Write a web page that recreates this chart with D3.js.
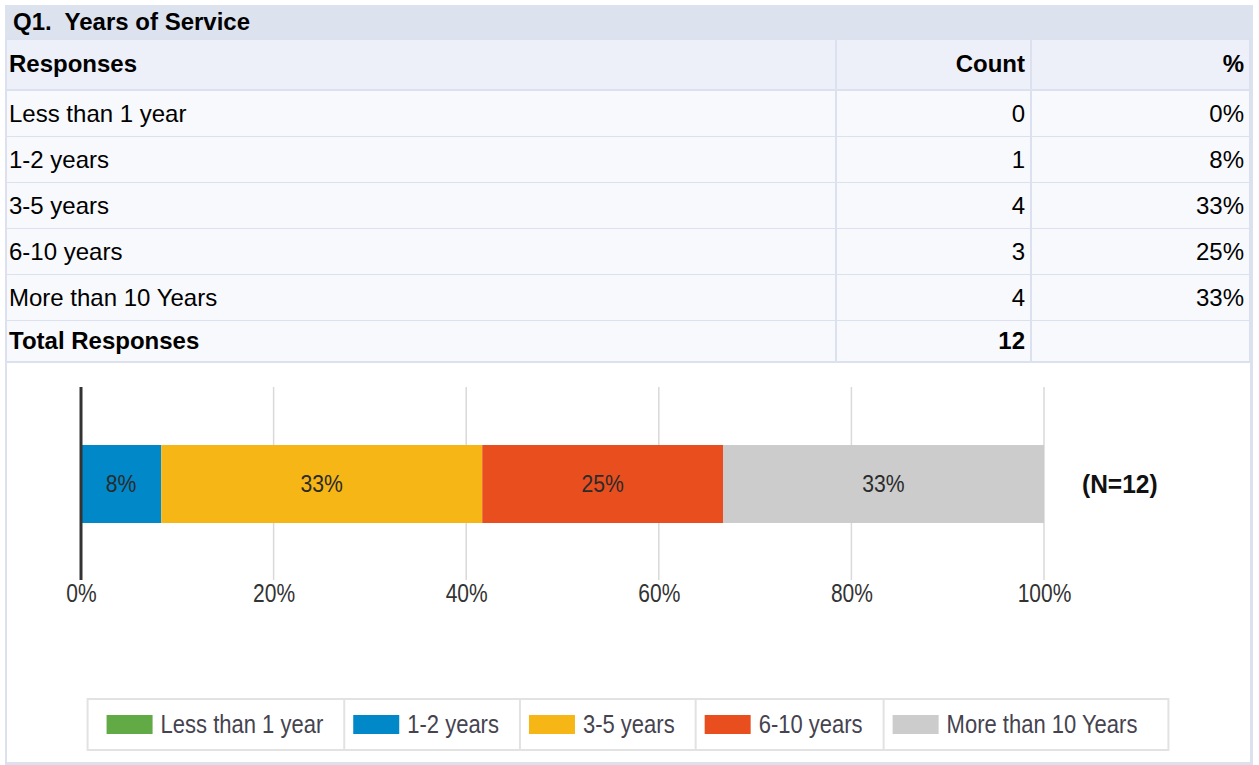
<!DOCTYPE html>
<html>
<head>
<meta charset="utf-8">
<script src="https://cdn.jsdelivr.net/npm/d3@7"></script>
<style>
    body { margin: 0; background: #fff; }
    svg { display: block; }
    .tbl text { font-family: "Liberation Sans", Arial, sans-serif; font-size: 24px; fill: #000; }
    .tbl .bold { font-weight: bold; }
    .chart text { font-family: "Liberation Sans", Arial, sans-serif; }
    .tick-label { font-size: 25px; fill: #333; }
    .bar-label { font-size: 23px; fill: #2b2b2b; }
    .legend-label { font-size: 25px; fill: #45434f; }
    .n-label { font-size: 25px; font-weight: bold; fill: #111; }
</style>
</head>
<body>
<script>

const title = "Q1.  Years of Service";
const categories = ["Less than 1 year", "1-2 years", "3-5 years", "6-10 years", "More than 10 Years"];
const counts = [0, 1, 4, 3, 4];
const percents = ["0%", "8%", "33%", "25%", "33%"];
const colors = ["#62aa46", "#0088c9", "#f5b616", "#e94e1f", "#cccccc"];
const tickValues = [0, 0.2, 0.4, 0.6, 0.8, 1];
const total = d3.sum(counts);

const dim = { width: 1259, height: 765 };
const border = "#dbe1ef";

// the chart text in the original is a narrow face; squeeze Liberation Sans to match
function squeeze(sel, k) {
    sel.each(function () {
        const w = this.getComputedTextLength();
        d3.select(this)
            .attr("textLength", w * k)
            .attr("lengthAdjust", "spacingAndGlyphs");
    });
}

const svg = d3.select("body").append("svg")
    .attr("width", dim.width)
    .attr("height", dim.height);

// Table ////////////////////////////////////

const cols = [7, 836, 1031, 1250];
const rowY = d3.scaleBand()
    .domain(d3.range(categories.length))
    .range([91, 321]);

const tbl = svg.append("g").attr("class", "tbl");

// frame
tbl.append("rect")
    .attr("x", 5).attr("y", 5)
    .attr("width", 1248).attr("height", 760)
    .style("fill", border);

tbl.append("rect")
    .attr("x", 5).attr("y", 5)
    .attr("width", 1248).attr("height", 33)
    .style("fill", "#dce3ef");

tbl.append("text")
    .attr("class", "bold")
    .attr("x", 13).attr("y", 30)
    .style("white-space", "pre")
    .text(title);

// header row
const headerY = 40, headerH = 49;
[["Responses", "start"], ["Count", "end"], ["%", "end"]].forEach(([t, anchor], i) => {
    tbl.append("rect")
        .attr("x", cols[i] + (i ? 1 : 0)).attr("y", headerY)
        .attr("width", cols[i + 1] - cols[i] - (i ? 1 : 0) - 1).attr("height", headerH)
        .style("fill", "#edf0f8");
    tbl.append("text")
        .attr("class", "bold")
        .attr("x", anchor === "start" ? cols[i] + 2 : cols[i + 1] - 6)
        .attr("y", headerY + 32)
        .attr("text-anchor", anchor)
        .text(t);
});

// data rows
const rows = categories.map((c, i) => [c, String(counts[i]), percents[i]]);
rows.push(["Total Responses", String(total), ""]);

rows.forEach((r, j) => {
    const y0 = j < categories.length ? rowY(j) : 321;
    const h = j < categories.length ? rowY.bandwidth() - 1 : 40;
    r.forEach((t, i) => {
        tbl.append("rect")
            .attr("x", cols[i] + (i ? 1 : 0)).attr("y", y0)
            .attr("width", cols[i + 1] - cols[i] - (i ? 1 : 0) - 1).attr("height", h)
            .style("fill", "#f8f9fc");
        tbl.append("text")
            .attr("class", j === categories.length ? "bold" : null)
            .attr("x", i === 0 ? cols[i] + 2 : cols[i + 1] - 6)
            .attr("y", y0 + h / 2 + 8)
            .attr("text-anchor", i === 0 ? "start" : "end")
            .text(t);
    });
});

// chart area background
svg.append("rect")
    .attr("x", 7).attr("y", 363)
    .attr("width", 1243).attr("height", 399)
    .style("fill", "#fff");

// Chart ////////////////////////////////////

const chart = svg.append("g").attr("class", "chart");

const x = d3.scaleLinear().domain([0, 1]).range([81, 1044]);
const bar = { top: 445, bottom: 523 };
const grid = { top: 387, bottom: 580 };

chart.append("g")
    .selectAll("line")
    .data(tickValues.filter(d => d !== 0))
    .join("line")
    .attr("x1", d => x(d)).attr("x2", d => x(d))
    .attr("y1", grid.top).attr("y2", grid.bottom)
    .style("stroke", "#d9d9d9")
    .style("stroke-width", 1.5);

const shares = counts.map(c => c / total);
const ends = Array.from(d3.cumsum(shares));
const segs = shares.map((s, i) => ({ x0: ends[i] - s, x1: ends[i], i }))
    .filter(d => counts[d.i] > 0);

chart.append("g")
    .selectAll("rect")
    .data(segs)
    .join("rect")
    .attr("x", d => x(d.x0))
    .attr("y", bar.top)
    .attr("width", d => x(d.x1) - x(d.x0))
    .attr("height", bar.bottom - bar.top)
    .style("fill", d => colors[d.i]);

chart.append("g")
    .selectAll("text")
    .data(segs)
    .join("text")
    .attr("class", "bar-label")
    .attr("x", d => (x(d.x0) + x(d.x1)) / 2)
    .attr("y", (bar.top + bar.bottom) / 2 + 8)
    .attr("text-anchor", "middle")
    .text(d => percents[d.i])
    .call(squeeze, 0.92);

// baseline
chart.append("line")
    .attr("x1", x(0)).attr("x2", x(0))
    .attr("y1", grid.top).attr("y2", grid.bottom)
    .style("stroke", "#333")
    .style("stroke-width", 3);

const xAxis = d3.axisBottom(x)
    .tickValues(tickValues)
    .tickFormat(d3.format(".0%"))
    .tickSize(0)
    .tickPadding(0);

chart.append("g")
    .attr("transform", `translate(0, 584)`)
    .call(xAxis)
    .call(g => g.select(".domain").remove())
    .call(g => g.selectAll("text")
        .attr("class", "tick-label")
        .attr("dy", null)
        .attr("y", 18)
        .attr("font-family", null)
        .attr("font-size", null)
        .attr("fill", null)
        .call(squeeze, 0.84));

chart.append("text")
    .attr("class", "n-label")
    .attr("x", 1082)
    .attr("y", (bar.top + bar.bottom) / 2 + 9)
    .text(`(N=${ total })`)
    .call(squeeze, 0.98);

// Legend ////////////////////////////////////

const legend = chart.append("g");
const lg = { top: 699, height: 51, swatchW: 46, swatchH: 19, padL: 9, gap: 8, padR: 21, inset: 10, center: 628 };

const items = legend.selectAll("g.item")
    .data(categories)
    .join("g")
    .attr("class", "item");

items.append("text")
    .attr("class", "legend-label")
    .attr("y", lg.top + lg.height / 2 + 8)
    .text(d => d)
    .call(squeeze, 0.88);

const widths = [];
items.select("text").each(function () { widths.push(+this.getAttribute("textLength")); });
const itemW = widths.map(w => lg.padL + lg.swatchW + lg.gap + w + lg.padR);
const totalW = d3.sum(itemW) + 2 * lg.inset;
const left = lg.center - totalW / 2;
const starts = itemW.map((w, i) => left + lg.inset + d3.sum(itemW.slice(0, i)));

legend.insert("rect", ":first-child")
    .attr("x", left).attr("y", lg.top)
    .attr("width", totalW).attr("height", lg.height)
    .style("fill", "#fff")
    .style("stroke", "#e2e2e2")
    .style("stroke-width", 2);

items.each(function (d, i) {
    const g = d3.select(this);
    const sx = starts[i] + lg.padL;
    g.append("rect")
        .attr("x", sx)
        .attr("y", lg.top + (lg.height - lg.swatchH) / 2)
        .attr("width", lg.swatchW).attr("height", lg.swatchH)
        .style("fill", colors[i]);
    g.select("text").attr("x", sx + lg.swatchW + lg.gap);
    if (i > 0) {
        g.append("line")
            .attr("x1", starts[i]).attr("x2", starts[i])
            .attr("y1", lg.top).attr("y2", lg.top + lg.height)
            .style("stroke", "#e2e2e2")
            .style("stroke-width", 2);
    }
});

</script>
</body>
</html>
